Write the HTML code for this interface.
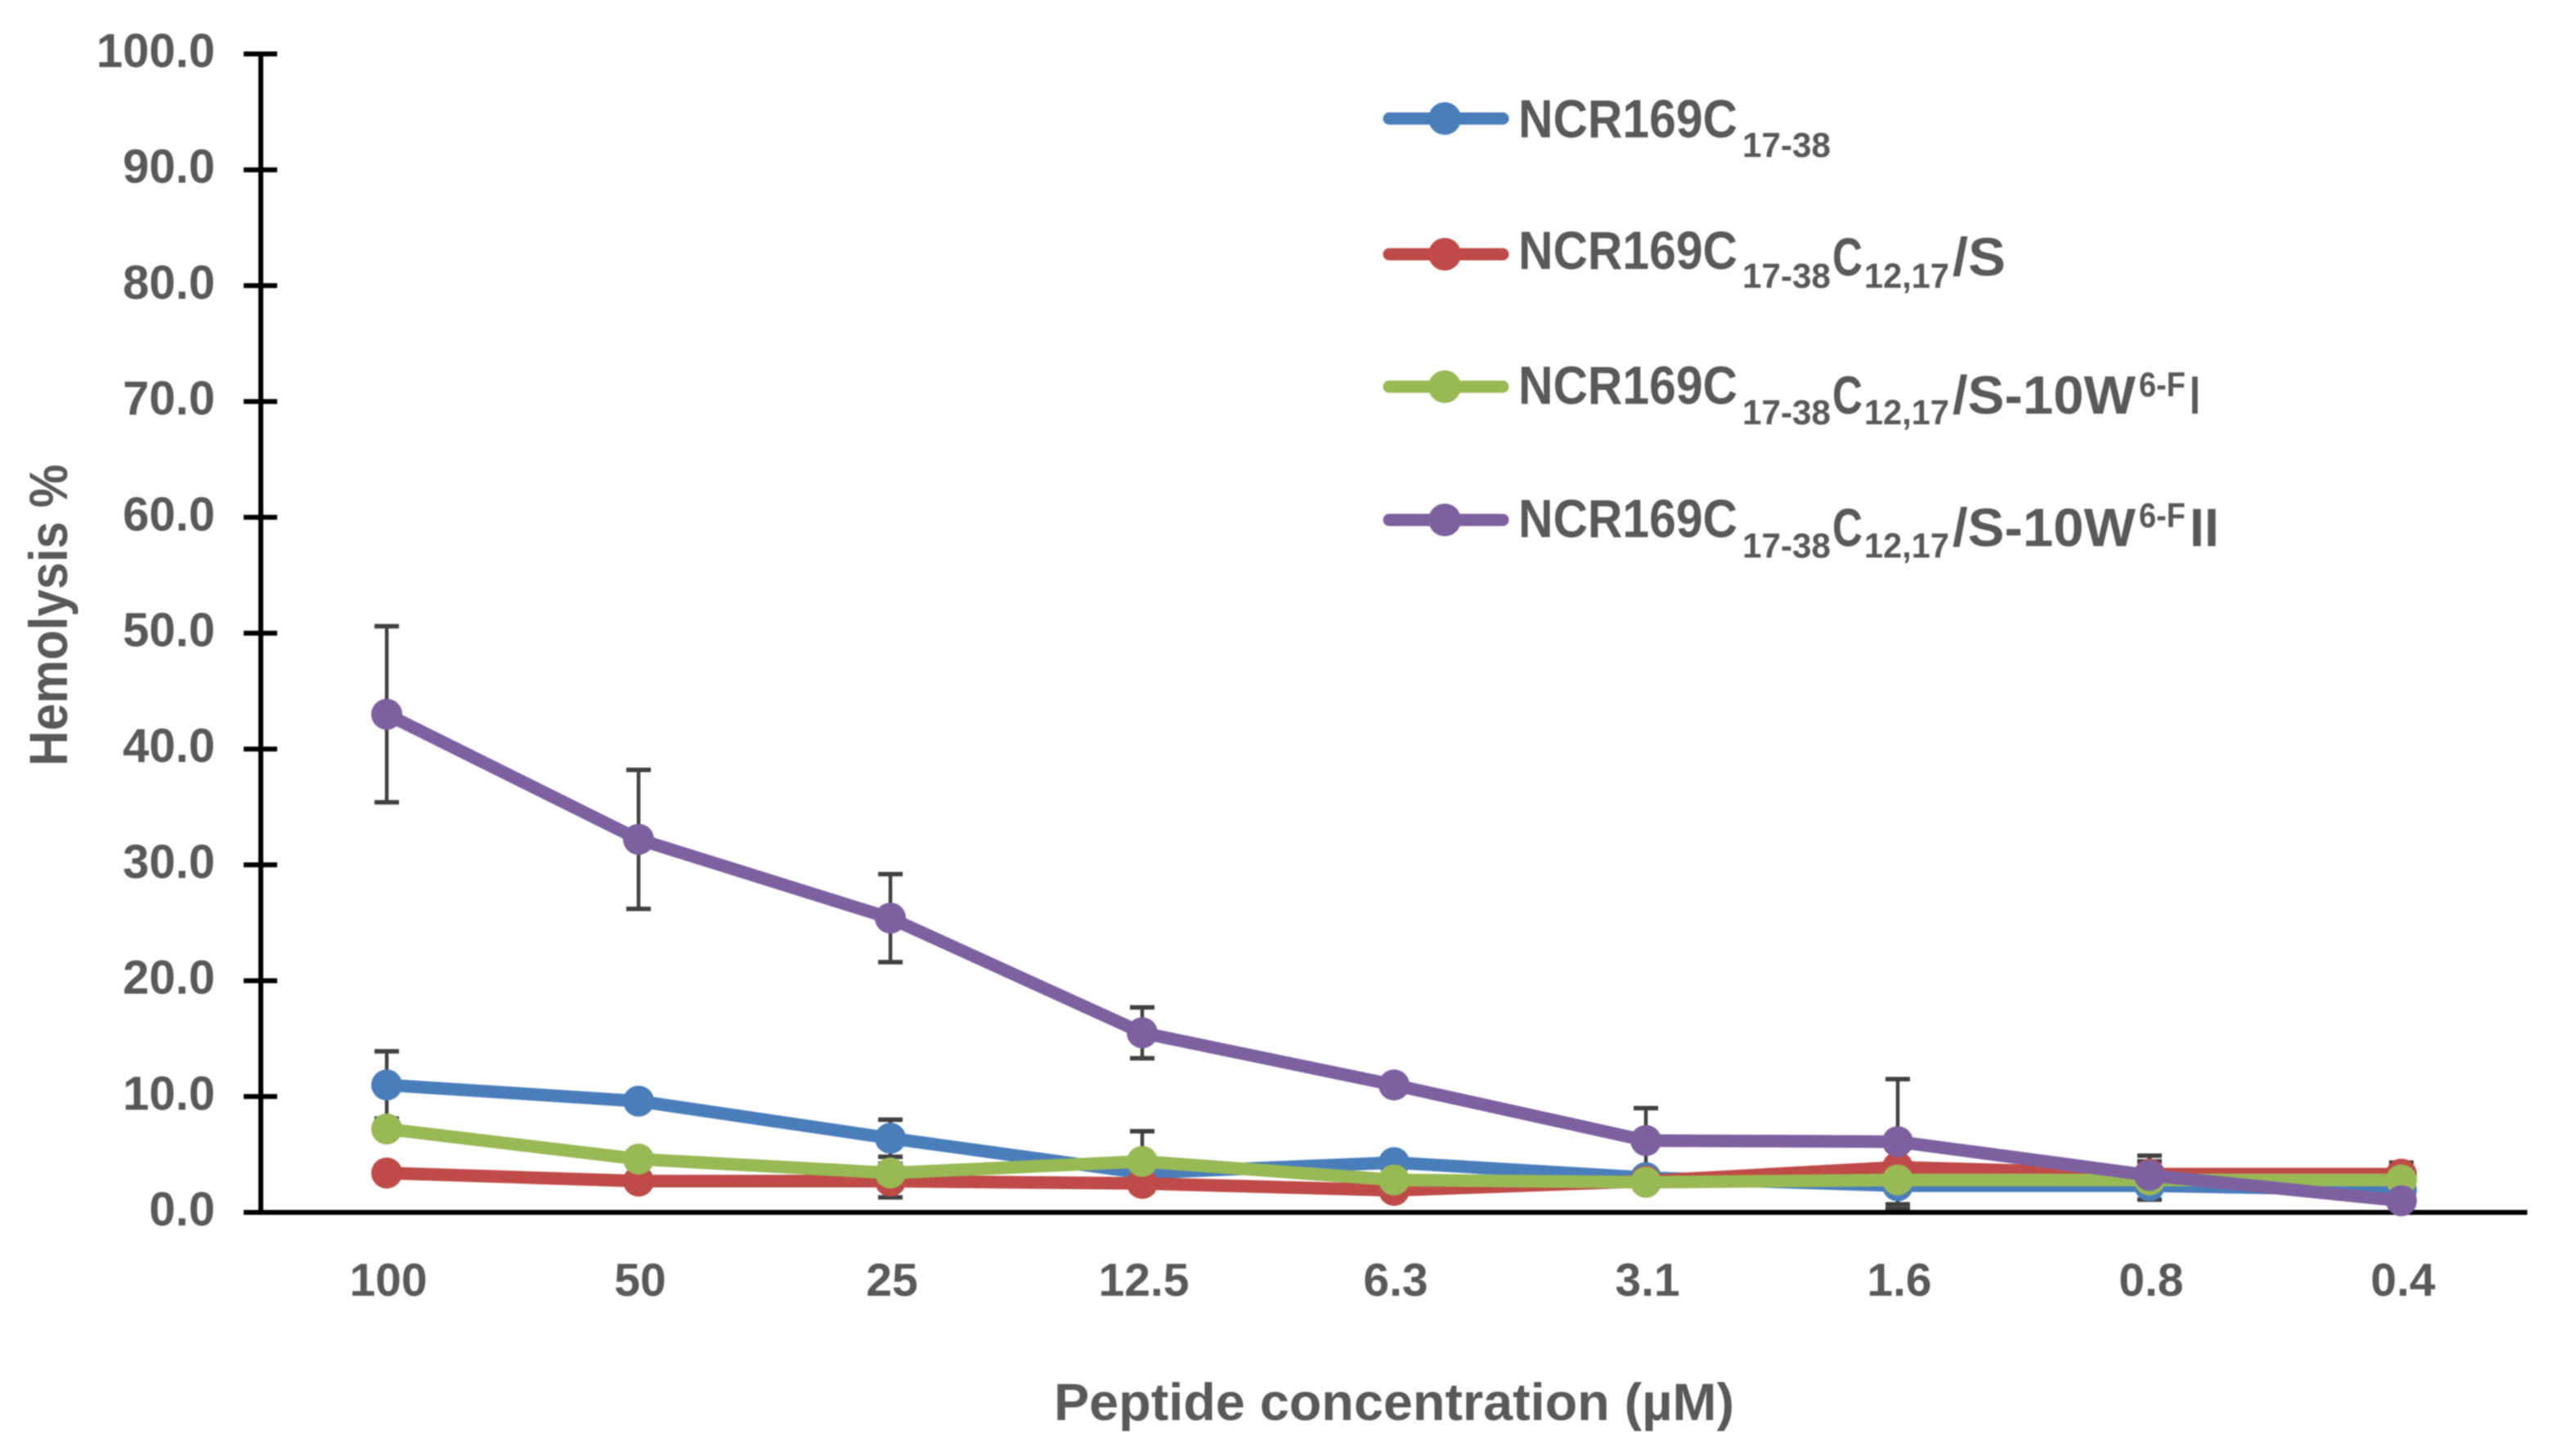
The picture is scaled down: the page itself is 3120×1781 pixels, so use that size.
<!DOCTYPE html>
<html lang="en">
<head>
<meta charset="utf-8">
<title>Hemolysis chart</title>
<style>
html,body{margin:0;padding:0;background:#fff;width:3120px;height:1781px;overflow:hidden}
svg{display:block;filter:blur(0.8px)}
text{font-family:"Liberation Sans",sans-serif;font-weight:bold;fill:#595959}
</style>
</head>
<body>
<svg id="chart" xmlns="http://www.w3.org/2000/svg" width="3120" height="1781" viewBox="0 0 3120 1781">
  <rect x="0" y="0" width="3120" height="1781" fill="#ffffff"/>
  <g id="y-ticks"></g>
  <g id="x-labels"></g>
  <g id="errors"></g>
  <g id="axes"></g>
  <g id="series"></g>

  <text x="1289" y="1737" font-size="64" textLength="832" lengthAdjust="spacingAndGlyphs">Peptide concentration (µM)</text>
  <text transform="translate(82 937) rotate(-90)" font-size="66" textLength="369" lengthAdjust="spacingAndGlyphs">Hemolysis %</text>

  <g>
    <g>
      <line x1="1699" y1="145" x2="1838" y2="145" stroke="#4a7ebb" stroke-width="15" stroke-linecap="round"/>
      <circle cx="1767" cy="145" r="20" fill="#4a7ebb"/>
      <text x="1857" y="168" font-size="66" textLength="268" lengthAdjust="spacingAndGlyphs">NCR169C</text>
      <text x="2131" y="192" font-size="43" textLength="108" lengthAdjust="spacingAndGlyphs">17-38</text>
    </g>
    <g>
      <line x1="1699" y1="311" x2="1838" y2="311" stroke="#be4b48" stroke-width="15" stroke-linecap="round"/>
      <circle cx="1767" cy="311" r="20" fill="#be4b48"/>
      <text x="1857" y="329" font-size="66" textLength="268" lengthAdjust="spacingAndGlyphs">NCR169C</text>
      <text x="2131" y="352" font-size="43" textLength="108" lengthAdjust="spacingAndGlyphs">17-38</text>
      <text x="2241" y="337" font-size="66" textLength="37" lengthAdjust="spacingAndGlyphs">C</text>
      <text x="2280" y="352" font-size="43" textLength="104" lengthAdjust="spacingAndGlyphs">12,17</text>
      <text x="2388" y="337" font-size="66" textLength="65" lengthAdjust="spacingAndGlyphs">/S</text>
    </g>
    <g>
      <line x1="1699" y1="473" x2="1838" y2="473" stroke="#98b954" stroke-width="15" stroke-linecap="round"/>
      <circle cx="1767" cy="473" r="20" fill="#98b954"/>
      <text x="1857" y="494" font-size="66" textLength="268" lengthAdjust="spacingAndGlyphs">NCR169C</text>
      <text x="2131" y="519" font-size="43" textLength="108" lengthAdjust="spacingAndGlyphs">17-38</text>
      <text x="2241" y="506" font-size="66" textLength="37" lengthAdjust="spacingAndGlyphs">C</text>
      <text x="2280" y="519" font-size="43" textLength="104" lengthAdjust="spacingAndGlyphs">12,17</text>
      <text x="2388" y="506" font-size="66" textLength="224" lengthAdjust="spacingAndGlyphs">/S-10W</text>
      <text x="2616" y="485" font-size="43" textLength="57" lengthAdjust="spacingAndGlyphs">6-F</text>
      <text x="2678" y="506" font-size="66" textLength="13" lengthAdjust="spacingAndGlyphs">I</text>
    </g>
    <g>
      <line x1="1699" y1="636" x2="1838" y2="636" stroke="#7d60a0" stroke-width="15" stroke-linecap="round"/>
      <circle cx="1767" cy="636" r="20" fill="#7d60a0"/>
      <text x="1857" y="657" font-size="66" textLength="268" lengthAdjust="spacingAndGlyphs">NCR169C</text>
      <text x="2131" y="682" font-size="43" textLength="108" lengthAdjust="spacingAndGlyphs">17-38</text>
      <text x="2241" y="668" font-size="66" textLength="37" lengthAdjust="spacingAndGlyphs">C</text>
      <text x="2280" y="682" font-size="43" textLength="104" lengthAdjust="spacingAndGlyphs">12,17</text>
      <text x="2388" y="668" font-size="66" textLength="224" lengthAdjust="spacingAndGlyphs">/S-10W</text>
      <text x="2616" y="645" font-size="43" textLength="57" lengthAdjust="spacingAndGlyphs">6-F</text>
      <text x="2678" y="668" font-size="66" textLength="36" lengthAdjust="spacingAndGlyphs">II</text>
    </g>
  </g>
</svg>
<script>
const categories = ['100', '50', '25', '12.5', '6.3', '3.1', '1.6', '0.8', '0.4'];
const yTickValues = [0, 10, 20, 30, 40, 50, 60, 70, 80, 90, 100];
const blueValues = [11.0, 9.6, 6.4, 3.4, 4.3, 3.0, 2.3, 2.3, 1.9];
const redValues = [3.4, 2.7, 2.7, 2.5, 1.9, 2.7, 3.9, 3.3, 3.3];
const greenValues = [7.2, 4.6, 3.4, 4.4, 2.8, 2.6, 2.8, 2.8, 2.8];
const purpleValues = [43.0, 32.2, 25.4, 15.5, 11.0, 6.2, 6.1, 3.2, 1.0];
const blueErrors = [2.9, 0.4, 1.6, 0.8, 0.6, 0.5, 2.0, 1.2, 0.5];
const redErrors = [0.4, 0.4, 1.4, 0.7, 0.4, 0.5, 0.6, 1.6, 1.0];
const greenErrors = [0.5, 0.5, 0.8, 2.6, 0.5, 0.5, 0.5, 0.5, 0.5];
const purpleErrors = [7.6, 6.0, 3.8, 2.2, 0.6, 2.8, 5.4, 1.2, 0.4];

const NS = 'http://www.w3.org/2000/svg';
const plotLeft = 319, plotRight = 3091, plotTop = 66, plotBottom = 1483, yMax = 100;
function xAt(i) { return plotLeft + (plotRight - plotLeft) * (i + 0.5) / categories.length; }
function yAt(v) { return plotBottom - (plotBottom - plotTop) * v / yMax; }
function make(tag, parent, attrs) {
  const el = document.createElementNS(NS, tag);
  Object.keys(attrs).forEach(function (k) { el.setAttribute(k, attrs[k]); });
  parent.appendChild(el);
  return el;
}

const yTicksGroup = document.getElementById('y-ticks');
yTickValues.forEach(function (v) {
  const tick = make('line', yTicksGroup, { x1: 298, x2: 339, y1: yAt(v), y2: yAt(v), stroke: '#000', 'stroke-width': 6 });
  
  
  const label = make('text', yTicksGroup, { x: 263, y: yAt(v) + 16, 'font-size': 58, 'text-anchor': 'end' });
  
  
  label.textContent = v.toFixed(1);
});

const xLabelsGroup = document.getElementById('x-labels');
categories.forEach(function (c, i) {
  const label = make('text', xLabelsGroup, { x: xAt(i) + 2, y: 1585, 'font-size': 57, 'text-anchor': 'middle' });
  
  
  label.textContent = c;
});

const axesGroup = document.getElementById('axes');
const yAxisLine = make('line', axesGroup, { x1: plotLeft, x2: plotLeft, y1: plotTop, y2: plotBottom, stroke: '#000', 'stroke-width': 6 });


const xAxisLine = make('line', axesGroup, { x1: 298, x2: plotRight, y1: plotBottom, y2: plotBottom, stroke: '#000', 'stroke-width': 6 });



const seriesDefs = [
  { key: 'blue', color: '#4a7ebb', values: blueValues, errors: blueErrors },
  { key: 'red', color: '#be4b48', values: redValues, errors: redErrors },
  { key: 'green', color: '#98b954', values: greenValues, errors: greenErrors },
  { key: 'purple', color: '#7d60a0', values: purpleValues, errors: purpleErrors }
];

const errorsGroup = document.getElementById('errors');
const seriesGroup = document.getElementById('series');
seriesDefs.forEach(function (s) {
  s.values.forEach(function (v, i) {
    const e = s.errors[i], x = xAt(i), hi = yAt(v + e), lo = yAt(Math.max(v - e, 0));
    const stem = make('line', errorsGroup, { x1: x, x2: x, y1: hi, y2: lo, stroke: '#404040', 'stroke-width': 4.5 });
    
    
    const capTop = make('line', errorsGroup, { x1: x - 15, x2: x + 15, y1: hi, y2: hi, stroke: '#404040', 'stroke-width': 5.5 });
    
    
    const capLow = make('line', errorsGroup, { x1: x - 15, x2: x + 15, y1: lo, y2: lo, stroke: '#404040', 'stroke-width': 5.5 });
    
    
  });
  const pts = s.values.map(function (v, i) { return xAt(i) + ',' + yAt(v); }).join(' ');
  const line = make('polyline', seriesGroup, { points: pts, fill: 'none', stroke: s.color, 'stroke-width': 15.5, 'stroke-linejoin': 'round', 'stroke-linecap': 'round' });
  
  
  s.values.forEach(function (v, i) {
    const dot = make('circle', seriesGroup, { cx: xAt(i), cy: yAt(v), r: 19, fill: s.color });
    
    
  });
});
</script>
</body>
</html>
